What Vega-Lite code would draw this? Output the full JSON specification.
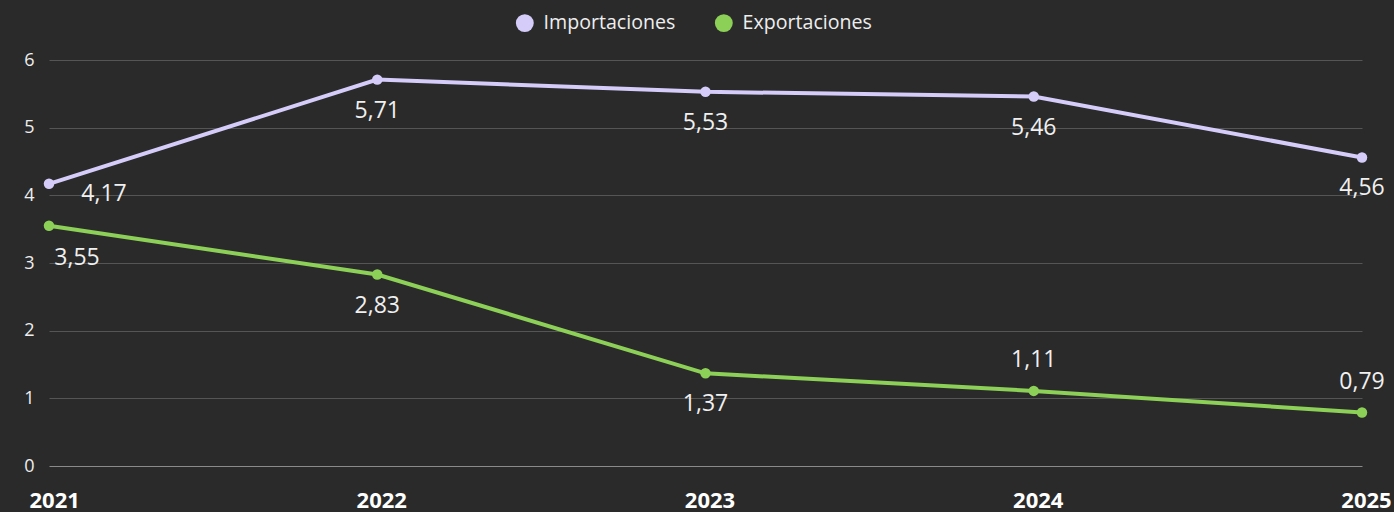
{
  "$schema": "https://vega.github.io/schema/vega-lite/v6.json",
  "width": 1313,
  "height": 406,
  "autosize": {"type": "none"},
  "padding": {"left": 49, "top": 60, "right": 32, "bottom": 46},
  "background": "#2a2a2a",
  "data": {
    "values": [
      {"year": "2021", "serie": "Importaciones", "valor": 4.17},
      {"year": "2022", "serie": "Importaciones", "valor": 5.71},
      {"year": "2023", "serie": "Importaciones", "valor": 5.53},
      {"year": "2024", "serie": "Importaciones", "valor": 5.46},
      {"year": "2025", "serie": "Importaciones", "valor": 4.56},
      {"year": "2021", "serie": "Exportaciones", "valor": 3.55},
      {"year": "2022", "serie": "Exportaciones", "valor": 2.83},
      {"year": "2023", "serie": "Exportaciones", "valor": 1.37},
      {"year": "2024", "serie": "Exportaciones", "valor": 1.11},
      {"year": "2025", "serie": "Exportaciones", "valor": 0.79}
    ]
  },
  "encoding": {
    "x": {
      "field": "year", "type": "ordinal",
      "scale": {"type": "point", "padding": 0},
      "axis": {
        "title": null, "labelAngle": 0, "domain": false, "ticks": false, "grid": false,
        "labelFontSize": 22, "labelFontWeight": "bold", "labelColor": "#ffffff",
        "labelFont": "Open Sans", "labelPadding": 24, "labelOverlap": false, "labelBound": false,
        "labelAlign": {"condition": {"test": "datum.value === '2021'", "value": "left"}, "value": "center"},
        "labelOffset": {"condition": {"test": "datum.value === '2021'", "value": -20}, "value": 4}
      }
    },
    "y": {
      "field": "valor", "type": "quantitative",
      "scale": {"domain": [0, 6]},
      "axis": {
        "title": null, "values": [0, 1, 2, 3, 4, 5, 6], "domain": false, "ticks": false,
        "gridColor": {"condition": {"test": "datum.value === 0", "value": "#8a8a8a"}, "value": "#555555"},
        "gridWidth": 1, "labelFontSize": 18, "labelColor": "#eeeeee",
        "labelFont": "Open Sans", "labelPadding": 15, "labelOverlap": false
      }
    },
    "color": {
      "field": "serie", "type": "nominal",
      "scale": {"domain": ["Importaciones", "Exportaciones"], "range": ["#d6ccfa", "#8dd058"]},
      "legend": {
        "title": null, "orient": "none", "legendX": 466, "legendY": -47, "direction": "horizontal",
        "symbolType": "circle", "symbolSize": 320, "symbolStrokeWidth": 0,
        "labelFontSize": 19.6, "labelColor": "#eeeeee", "labelFont": "Open Sans",
        "columnPadding": 38, "symbolOffset": 0, "labelOffset": 9
      }
    }
  },
  "layer": [
    {
      "mark": {"type": "line", "strokeWidth": 4, "point": {"filled": true, "size": 110}}
    },
    {
      "transform": [{"filter": "datum.year != '2021' && !(datum.serie == 'Exportaciones' && (datum.year == '2024' || datum.year == '2025'))"}],
      "mark": {"type": "text", "dy": 31, "fontSize": 23, "font": "Open Sans"},
      "encoding": {"text": {"field": "valor", "type": "quantitative", "format": ".2f"}, "color": {"value": "#f0f0f0"}}
    },
    {
      "transform": [{"filter": "datum.serie == 'Exportaciones' && (datum.year == '2024' || datum.year == '2025')"}],
      "mark": {"type": "text", "dy": -31, "fontSize": 23, "font": "Open Sans"},
      "encoding": {"text": {"field": "valor", "type": "quantitative", "format": ".2f"}, "color": {"value": "#f0f0f0"}}
    },
    {
      "transform": [{"filter": "datum.year == '2021' && datum.serie == 'Importaciones'"}],
      "mark": {"type": "text", "dx": 55, "dy": 10, "fontSize": 23, "font": "Open Sans"},
      "encoding": {"text": {"field": "valor", "type": "quantitative", "format": ".2f"}, "color": {"value": "#f0f0f0"}}
    },
    {
      "transform": [{"filter": "datum.year == '2021' && datum.serie == 'Exportaciones'"}],
      "mark": {"type": "text", "dx": 28, "dy": 32, "fontSize": 23, "font": "Open Sans"},
      "encoding": {"text": {"field": "valor", "type": "quantitative", "format": ".2f"}, "color": {"value": "#f0f0f0"}}
    }
  ],
  "config": {
    "view": {"stroke": null},
    "locale": {"number": {"decimal": ",", "thousands": ".", "grouping": [3], "currency": ["", " €"]}}
  }
}
